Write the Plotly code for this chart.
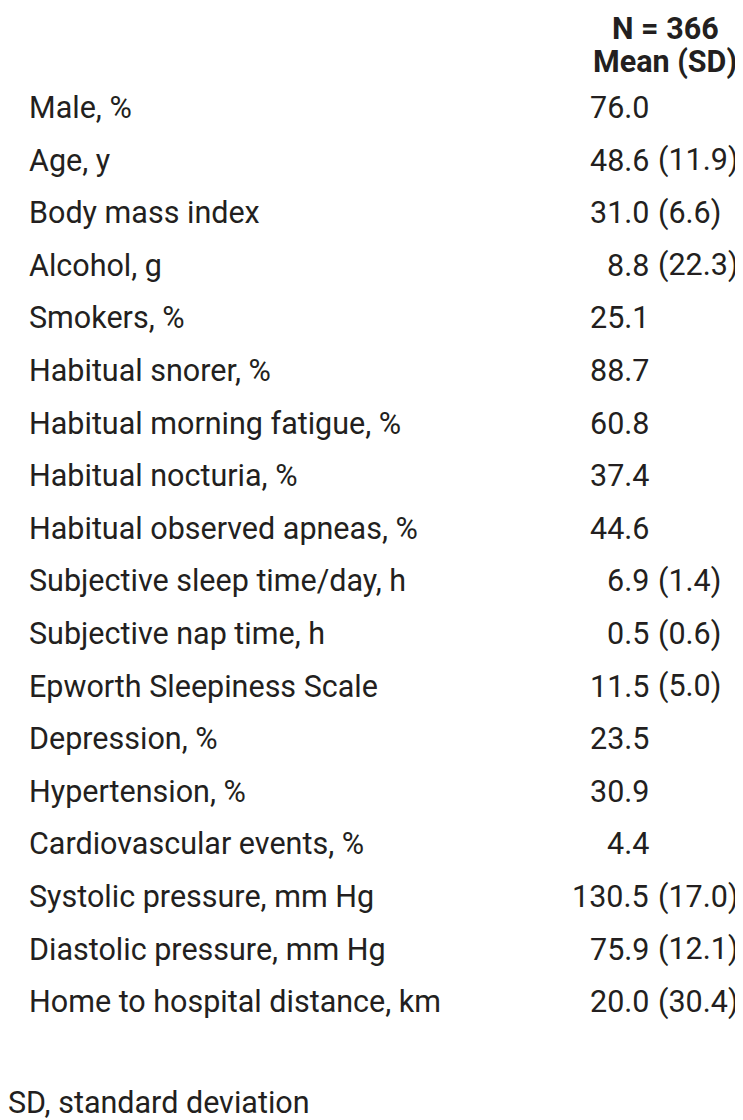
import plotly.graph_objects as go

# ---- data ----
labels = [
    "Male, %", "Age, y", "Body mass index", "Alcohol, g", "Smokers, %",
    "Habitual snorer, %", "Habitual morning fatigue, %", "Habitual nocturia, %",
    "Habitual observed apneas, %", "Subjective sleep time/day, h",
    "Subjective nap time, h", "Epworth Sleepiness Scale", "Depression, %",
    "Hypertension, %", "Cardiovascular events, %", "Systolic pressure, mm Hg",
    "Diastolic pressure, mm Hg", "Home to hospital distance, km",
]
means = ["76.0", "48.6", "31.0", "8.8", "25.1", "88.7", "60.8", "37.4", "44.6",
         "6.9", "0.5", "11.5", "23.5", "30.9", "4.4", "130.5", "75.9", "20.0"]
sds = ["", "(11.9)", "(6.6)", "(22.3)", "", "", "", "", "",
       "(1.4)", "(0.6)", "(5.0)", "", "", "", "(17.0)", "(12.1)", "(30.4)"]
header_lines = ["N = 366", "Mean (SD)"]
footnote = "SD, standard deviation"

FONT = "Roboto, Liberation Sans, Arial, sans-serif"
COLOR = "#231f20"
SIZE = 30.5

OFF = 8                      # page body margin
W, H = 743 - OFF, 1120 - OFF
row0, step = 107.5, 52.6     # window-pixel center of first row, row spacing


def yrow(p):
    return (p - row0) / step


fig = go.Figure()
fig.add_trace(go.Scatter(x=[OFF + 1], y=[0], mode="markers", marker=dict(opacity=0),
                         hoverinfo="skip", showlegend=False))

ann = []
for i, (lab, m, s) in enumerate(zip(labels, means, sds)):
    ann.append(dict(x=29, y=i, text=lab, xanchor="left", yanchor="middle"))
    ann.append(dict(x=649, y=i, text=m, xanchor="right", yanchor="middle"))
    if s:
        ann.append(dict(x=658, y=i, text=s, xanchor="left", yanchor="middle"))

for txt, py in zip(header_lines, [28, 62]):
    ann.append(dict(x=665, y=yrow(py), text="<b>" + txt + "</b>",
                    xanchor="center", yanchor="middle"))

ann.append(dict(x=OFF, y=yrow(1102), text=footnote, xanchor="left", yanchor="middle"))

for a in ann:
    a.update(xref="x", yref="y", showarrow=False, borderpad=0, borderwidth=0,
             font=dict(family=FONT, size=SIZE, color=COLOR))

fig.update_layout(
    width=W, height=H,
    margin=dict(l=0, r=0, t=0, b=0),
    paper_bgcolor="white", plot_bgcolor="white",
    xaxis=dict(range=[OFF, 743], visible=False, fixedrange=True),
    yaxis=dict(range=[yrow(1120), yrow(OFF)], visible=False, fixedrange=True),
    annotations=ann,
    showlegend=False,
)

fig.write_html("out.html", config={"displayModeBar": False})
